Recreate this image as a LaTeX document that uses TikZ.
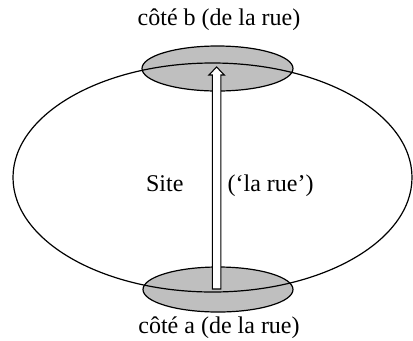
\documentclass[tikz,border=0pt]{standalone}
\usepackage{fontspec}
\setmainfont{Liberation Serif}
\tikzset{
  rim/.style={draw=black,fill=gray!50,line width=0.9pt},
  lbl/.style={inner sep=0pt,font=\fontsize{18}{21}\selectfont}
}

\begin{document}
\begin{tikzpicture}[x=0.75pt,y=-0.75pt,line width=0.9pt]
\useasboundingbox (0,0) rectangle (413,340);
%%%%%%%%%%%%%%%%%%%% the two sides of the street %%%%%%%%%%%%%%%%%%%%
\filldraw[rim] (217.5,68.5) ellipse (75.5 and 22.5);
\filldraw[rim] (218,289.5) ellipse (75 and 22.5);
%%%%%%%%%%%%%%%%%%%% the site %%%%%%%%%%%%%%%%%%%%
\draw (212.5,177.5) ellipse (199.5 and 114.5);
%%%%%%%%%%%%%%%%%%%% the street, as an arrow %%%%%%%%%%%%%%%%%%%%
\coordinate (ra) at (216.6,289);
\coordinate (rb) at (216.6,67);
\filldraw[fill=white,line width=0.8pt] (ra) ++(-4.2,0) -- ++(0,-214) -- ++(-3.5,0)
  -- (rb) -- ++(7.7,8) -- ++(-3.5,0) -- ++(0,214) -- cycle;
%%%%%%%%%%%%%%%%%%%% labels %%%%%%%%%%%%%%%%%%%%
\node[lbl,anchor=base] (cb) at (219,25) {côté b (de la rue)};
\node[lbl,anchor=base] (ca) at (219,333) {côté a (de la rue)};
\node[lbl,anchor=base east] (site) at (184,191) {Site};
\node[lbl,anchor=base west] (rue) at (227,191) {(‘la rue’)};
\end{tikzpicture}
\end{document}
